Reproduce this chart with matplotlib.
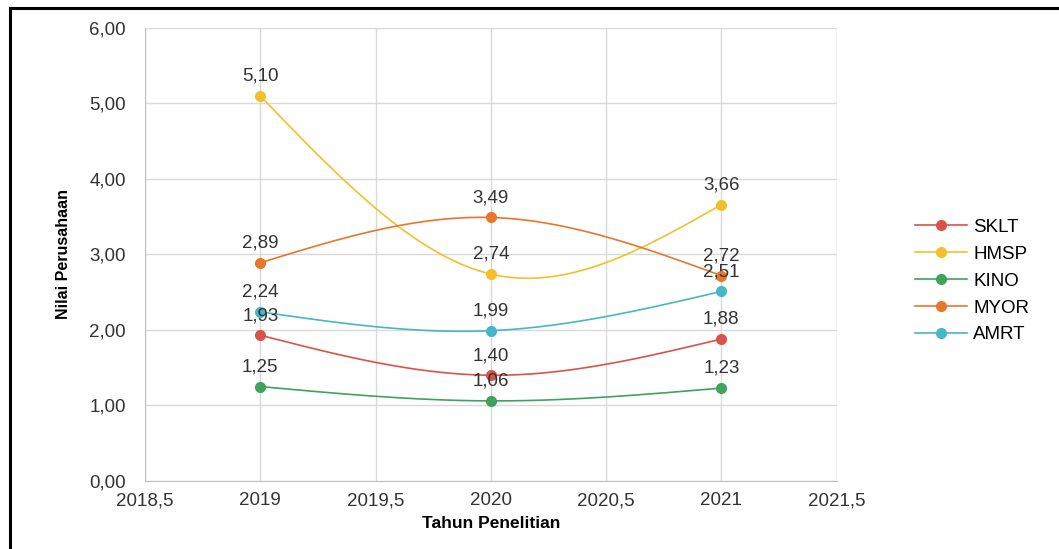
import numpy as np
import matplotlib
matplotlib.use('Agg')
import matplotlib.pyplot as plt
from matplotlib.lines import Line2D
from matplotlib.ticker import FuncFormatter

plt.rcParams['font.family'] = ['Liberation Sans', 'DejaVu Sans']

years = [2019, 2020, 2021]
sklt = [1.93, 1.40, 1.88]
hmsp = [5.10, 2.74, 3.66]
kino = [1.25, 1.06, 1.23]
myor = [2.89, 3.49, 2.72]
amrt = [2.24, 1.99, 2.51]
names = ['SKLT', 'HMSP', 'KINO', 'MYOR', 'AMRT']
colors = ['#d9534a', '#f3c02c', '#3fa35b', '#e8772b', '#47b6c9']


def smooth(x, y, n=200):
    # natural cubic spline through the points
    x = np.asarray(x, float)
    y = np.asarray(y, float)
    k = len(x)
    h = np.diff(x)
    A = np.zeros((k, k))
    r = np.zeros(k)
    A[0, 0] = A[-1, -1] = 1
    for i in range(1, k - 1):
        A[i, i - 1] = h[i - 1]
        A[i, i] = 2 * (h[i - 1] + h[i])
        A[i, i + 1] = h[i]
        r[i] = 6 * ((y[i + 1] - y[i]) / h[i] - (y[i] - y[i - 1]) / h[i - 1])
    m = np.linalg.solve(A, r)
    xs = np.linspace(x[0], x[-1], n)
    ys = np.empty_like(xs)
    for j, t in enumerate(xs):
        i = min(np.searchsorted(x, t, side='right') - 1, k - 2)
        a = x[i + 1] - t
        b = t - x[i]
        ys[j] = (m[i] * a**3 + m[i + 1] * b**3) / (6 * h[i]) \
            + (y[i] / h[i] - m[i] * h[i] / 6) * a + (y[i + 1] / h[i] - m[i + 1] * h[i] / 6) * b
    return xs, ys


fig = plt.figure(figsize=(10.59, 5.49), dpi=100)
ax = fig.add_axes([0.137, 0.124, 0.653, 0.825])

series = [sklt, hmsp, kino, myor, amrt]
handles = []
for vals, name, c in zip(series, names, colors):
    xs, ys = smooth(years, vals)
    ax.plot(xs, ys, color=c, lw=1.2, zorder=3)
    ax.plot(years, vals, 'o', color=c, ms=7, zorder=4)
    for xv, yv in zip(years, vals):
        ax.annotate(('%.2f' % yv).replace('.', ','), (xv, yv), xytext=(0, 8),
                    textcoords='offset points', ha='center', va='bottom',
                    fontsize=13.5, color='#333333', zorder=5)
    handles.append(Line2D([0], [0], color=c, lw=1.2, marker='o', ms=7))

ax.set_xlim(2018.5, 2021.5)
ax.set_ylim(0, 6)
ax.set_xticks(np.arange(2018.5, 2021.51, 0.5))
ax.set_yticks(np.arange(0, 6.01, 1))
ax.xaxis.set_major_formatter(FuncFormatter(lambda v, p: ('%g' % v).replace('.', ',')))
ax.yaxis.set_major_formatter(FuncFormatter(lambda v, p: ('%.2f' % v).replace('.', ',')))
ax.grid(True, color='#d9d9d9', lw=1)
ax.set_axisbelow(True)
for s in ['top', 'right']:
    ax.spines[s].set_visible(False)
for s in ['left', 'bottom']:
    ax.spines[s].set_color('#bfbfbf')
ax.tick_params(length=0, labelsize=13.5, colors='#333333')
ax.tick_params(axis='y', pad=14)
ax.tick_params(axis='x', pad=8)
ax.set_xlabel('Tahun Penelitian', fontsize=12.5, fontweight='bold', labelpad=5)
ax.set_ylabel('Nilai Perusahaan', fontsize=11.5, fontweight='bold', labelpad=13)

fig.legend(handles, names, loc='center left', bbox_to_anchor=(0.848, 0.488),
           frameon=False, fontsize=13.5, handlelength=2.8, labelspacing=0.52,
           handletextpad=0.3)

# black frame around the chart image
fig.add_artist(Line2D([0.0095, 1.0], [0.985, 0.985], color='black', lw=2.2))
fig.add_artist(Line2D([0.0095, 0.0095], [0.0, 0.985], color='black', lw=2.2))

fig.savefig('out.png', dpi=100)
